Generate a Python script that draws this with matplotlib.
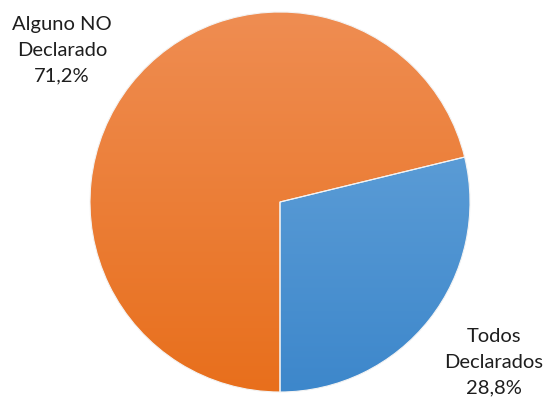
import numpy as np
import matplotlib
matplotlib.use("Agg")
import matplotlib.pyplot as plt
from matplotlib.colors import LinearSegmentedColormap

categories = ["Todos\nDeclarados", "Alguno NO\nDeclarado"]
values = [28.8, 71.2]
pct_labels = ["28,8%", "71,2%"]

plt.rcParams['font.family'] = ['Lato', 'DejaVu Sans']

fig = plt.figure(figsize=(5.52, 4.0), dpi=100)
ax = fig.add_axes([90/552, 8/400, 380/552, 380/400])

wedges, _ = ax.pie(values, startangle=-90, counterclock=True, radius=1,
                   colors=["#5599d5", "#ec7b33"],
                   wedgeprops=dict(edgecolor="#f3f3f3", linewidth=0.8))

grads = [("#6ca8dc", "#3d87cb"), ("#ef8d52", "#e86f1c")]
grad = np.linspace(0, 1, 256).reshape(-1, 1)
for w, (top, bot) in zip(wedges, grads):
    cmap = LinearSegmentedColormap.from_list("g", [top, bot])
    im = ax.imshow(grad, cmap=cmap, extent=(-1, 1, -1, 1), origin="upper",
                   aspect="auto", zorder=w.get_zorder() - 0.1)
    im.set_clip_path(w)
    w.set_facecolor("none")

ax.set_xlim(-1.0, 1.0)
ax.set_ylim(-1.0, 1.0)
ax.set_aspect("equal")
ax.axis("off")

# labels
fig.text(62/552, 1 - 50/400, categories[1] + "\n" + pct_labels[1], ha="center", va="center",
         fontsize=14.5, linespacing=1.6, color="#1e1e1e")
fig.text(494/552, 1 - 362/400, categories[0] + "\n" + pct_labels[0], ha="center", va="center",
         fontsize=14.5, linespacing=1.6, color="#1e1e1e")

fig.savefig("out.png", dpi=100, facecolor="white")
